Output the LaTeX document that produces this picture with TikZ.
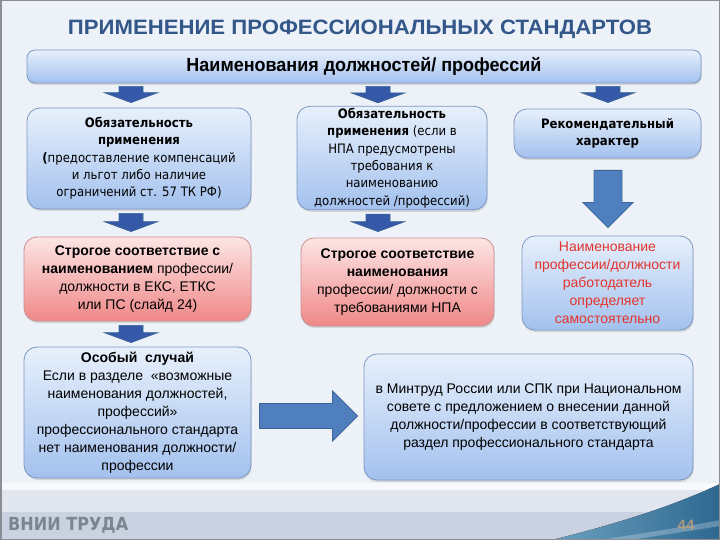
\documentclass[tikz,border=0pt]{standalone}
\usepackage{fontspec}
\usepackage{graphicx}
\setmainfont{Liberation Sans}
\newfontfamily\tahfont[FakeStretch=0.9]{DejaVu Sans}
\usetikzlibrary{calc,shadows}
\pgfdeclarelayer{background}
\pgfsetlayers{background,main}

\definecolor{pagebg}{HTML}{EDF1F8}
\definecolor{titleblue}{HTML}{34578A}
\definecolor{boxtop}{HTML}{E7F0FC}
\definecolor{boxbot}{HTML}{A3C1EE}
\definecolor{boxline}{HTML}{7D97C2}
\definecolor{redtop}{HTML}{FDE5E5}
\definecolor{redbot}{HTML}{F08888}
\definecolor{redline}{HTML}{C98F8F}
\definecolor{arrfill}{HTML}{4F7FBF}
\definecolor{arrdark}{HTML}{3559A8}
\definecolor{arrline}{HTML}{3A6594}
\definecolor{redtext}{HTML}{E3342C}
\definecolor{footgray}{HTML}{E2E6EE}
\definecolor{footblue}{HTML}{CAD1E0}
\definecolor{foottext}{HTML}{7C8492}
\definecolor{swooshA}{HTML}{6CA0BE}
\definecolor{swooshB}{HTML}{2E6890}
\definecolor{numcol}{HTML}{C4A27A}
\definecolor{framegray}{HTML}{8A8D93}

% block arrows: start, tip, shaft half width, head half width, head length, style
\newcommand{\blockdown}[6]{%
  \path #1 coordinate (bt) #2 coordinate (bb);
  \draw[#6] ($(bt)+(-#3,0)$) -- ($(bt)+(#3,0)$) -- ($(bb)+(#3,-#5)$) -- ($(bb)+(#4,-#5)$)
    -- (bb) -- ($(bb)+(-#4,-#5)$) -- ($(bb)+(-#3,-#5)$) -- cycle;}
\newcommand{\blockright}[6]{%
  \path #1 coordinate (bt) #2 coordinate (bb);
  \draw[#6] ($(bt)+(0,-#3)$) -- ($(bb)+(-#5,-#3)$) -- ($(bb)+(-#5,-#4)$) -- (bb)
    -- ($(bb)+(-#5,#4)$) -- ($(bb)+(-#5,#3)$) -- ($(bt)+(0,#3)$) -- cycle;}

\tikzset{
  bluebox/.style={draw=boxline, line width=0.8pt, rounded corners=13pt,
    top color=boxtop, bottom color=boxbot,
    drop shadow={shadow xshift=0.6pt, shadow yshift=-2pt, opacity=0.25},
    align=center, inner sep=2pt},
  redbox/.style={bluebox, draw=redline, top color=redtop, bottom color=redbot},
  tahtext/.style={font=\tahfont\fontsize{13}{17.3}\selectfont},
  nartext/.style={font=\fontsize{14}{18}\selectfont},
  smallarr/.style={fill=arrdark, draw=arrline, line width=0.6pt},
  bigarr/.style={fill=arrfill, draw=arrline, line width=0.8pt},
}

\begin{document}
\begin{tikzpicture}[x=1pt,y=-1pt]
\useasboundingbox (0,0) rectangle (720,540);
\begin{pgfonlayer}{background}
\fill[pagebg] (0,0) rectangle (720,540);
\fill[white!55!pagebg] (0,483) rectangle (720,490);
\fill[footgray] (0,490) rectangle (720,512);
\fill[footblue] (0,512) rectangle (720,540);
\fill[left color=swooshA, right color=swooshB] (552,540) .. controls (625,522) and (680,503) .. (720,484) -- (720,540) -- cycle;
\fill[white, opacity=0.25] (600,540) .. controls (650,532) and (690,526) .. (720,520) -- (720,526) .. controls (690,531) and (655,536) .. (630,540) -- cycle;
\draw[framegray, line width=1.5pt] (0.75,0.75) rectangle (719.25,539.25);
\end{pgfonlayer}

\node[text=titleblue, anchor=base, inner sep=0] (title) at (360,35)
  {\resizebox{584pt}{14.5pt}{\fontsize{20}{24}\selectfont\bfseries ПРИМЕНЕНИЕ ПРОФЕССИОНАЛЬНЫХ СТАНДАРТОВ}};
\node[bluebox, rounded corners=8pt, minimum width=674pt, minimum height=33pt] (names) at (364,66.5)
  {\resizebox{355pt}{\height}{\fontsize{19}{21}\selectfont\bfseries Наименования должностей/ профессий}};

% first row
\node[bluebox, tahtext, minimum width=224pt, minimum height=101pt] (oblig) at (139,158.5)
  {\textbf{Обязательность}\\ \textbf{применения}\\ \textbf{(}предоставление компенсаций\\ и льгот либо наличие\\ ограничений ст. 57 ТК РФ)};
\node[bluebox, tahtext, minimum width=190pt, minimum height=103pt] (oblignpa) at (392,158)
  {\textbf{Обязательность}\\ \textbf{применения} (если в\\ НПА предусмотрены\\ требования к\\ наименованию\\ должностей /профессий)};
\node[bluebox, font=\tahfont\fontsize{13}{17.3}\selectfont\bfseries, minimum width=187pt, minimum height=49pt] (recom) at (607.5,133.5)
  {Рекомендательный\\ характер};

% second row
\node[redbox, nartext, minimum width=227pt, minimum height=84pt] (strict) at (137.5,279)
  {\textbf{Строгое соответствие с}\\ \textbf{наименованием} профессии/\\ должности в ЕКС, ЕТКС\\ или ПС (слайд 24)};
\node[redbox, nartext, minimum width=193pt, minimum height=88pt] (strictnpa) at (397.5,282)
  {\textbf{Строгое соответствие}\\ \textbf{наименования}\\ профессии/ должности с\\ требованиями НПА};
\node[bluebox, nartext, text=redtext, minimum width=171pt, minimum height=94pt] (employer) at (607.5,283)
  {Наименование\\ профессии/должности\\ работодатель\\ определяет\\ самостоятельно};

% third row
\node[bluebox, nartext, minimum width=227pt, minimum height=131pt] (special) at (137.5,412.5)
  {\textbf{Особый\ \ случай}\\ Если в разделе \ «возможные\\ наименования должностей,\\ профессий»\\ профессионального стандарта\\ нет наименования должности/\\ профессии};
\node[bluebox, nartext, minimum width=329pt, minimum height=126pt] (mintrud) at (528.5,417)
  {в Минтруд России или СПК при Национальном\\ совете с предложением о внесении данной\\ должности/профессии в соответствующий\\ раздел профессионального стандарта};

% arrows
\coordinate (colL) at (131,0);
\coordinate (colM) at (378,0);
\coordinate (colR) at (608,0);
\coordinate (rowR) at (0,416);
\blockdown{($(colL |- names.south)+(0,3)$)}{($(colL |- oblig.north)+(0,-5)$)}{12}{27}{10}{smallarr}
\blockdown{($(colM |- names.south)+(0,3)$)}{($(colM |- oblignpa.north)+(0,-3)$)}{12}{27}{10}{smallarr}
\blockdown{($(colR |- names.south)+(0,3)$)}{($(colR |- recom.north)+(0,-6)$)}{12}{27}{10}{smallarr}
\blockdown{($(colL |- oblig.south)+(0,4)$)}{($(colL |- strict.north)+(0,-5)$)}{12}{27}{10}{smallarr}
\blockdown{($(colM |- oblignpa.south)+(0,4)$)}{($(colM |- strictnpa.north)+(0,-6)$)}{12}{27}{10}{smallarr}
\blockdown{($(colR |- recom.south)+(0,12)$)}{($(colR |- employer.north)+(0,-8)$)}{14}{25}{25}{bigarr}
\blockdown{($(colL |- strict.south)+(0,4)$)}{($(colL |- special.north)+(0,-4)$)}{12}{27}{10}{smallarr}
\blockright{($(special.east |- rowR)+(8,0)$)}{($(mintrud.west |- rowR)+(-6,0)$)}{12.5}{25}{25}{bigarr}

% footer
\node[anchor=west, text=foottext, inner sep=0] (vnii) at (8,525)
  {\resizebox{120pt}{\height}{\tahfont\fontsize{18}{20}\selectfont\bfseries ВНИИ ТРУДА}};
\node[text=numcol, opacity=0.8, inner sep=0] (page) at (686,525) {\fontsize{15}{18}\selectfont\bfseries 44};
\end{tikzpicture}
\end{document}
